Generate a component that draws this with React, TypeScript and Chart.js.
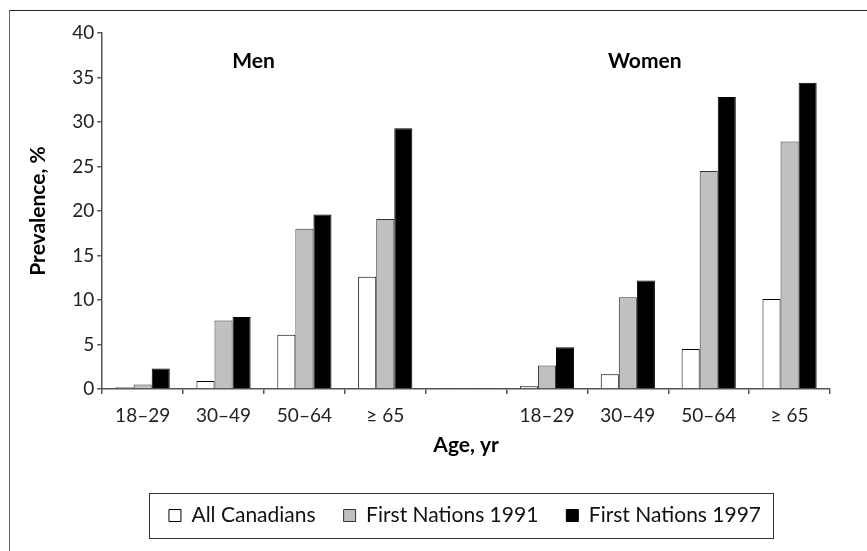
import { useEffect, useRef } from "react";
import { Chart, registerables } from "chart.js";

Chart.register(...registerables);

const categories = ["18–29", "30–49", "50–64", "≥ 65", "", "18–29", "30–49", "50–64", "≥ 65"];
const allCanadians = [0.2, 0.9, 6.1, 12.6, 0, 0.3, 1.65, 4.5, 10.1];
const firstNations1991 = [0.5, 7.7, 18.0, 19.1, 0, 2.65, 10.3, 24.5, 27.8];
const firstNations1997 = [2.3, 8.1, 19.6, 29.3, 0, 4.7, 12.2, 32.8, 34.4];
const seriesNames = ["All Canadians", "First Nations 1991", "First Nations 1997"];
const groupLabels = ["Men", "Women"];
const yMin = 0;
const yMax = 40;
const yStep = 5;

const FONT = 'Lato, "Open Sans", "DejaVu Sans", sans-serif';

const groupLabelPlugin = {
  id: "groupLabels",
  afterDatasetsDraw(chart: any) {
    const { ctx, scales } = chart;
    const x = scales.x;
    const y = scales.y;
    const xs = [1.37, 6.21];
    ctx.save();
    ctx.font = `bold 21px ${FONT}`;
    ctx.fillStyle = "#000";
    ctx.textAlign = "center";
    ctx.textBaseline = "middle";
    groupLabels.forEach((t, i) => {
      ctx.fillText(t, x.getPixelForValue(xs[i]), y.getPixelForValue(36.8));
    });
    ctx.restore();
  },
};

const legendBoxPlugin = {
  id: "legendBox",
  afterUpdate(chart: any) {
    const lg = chart.legend;
    if (!lg) return;
    const shift = 39;
    lg.left += shift;
    lg.right += shift;
    (lg.legendHitBoxes || []).forEach((h: any) => {
      h.left += shift;
    });
  },
  afterDraw(chart: any) {
    const lg = chart.legend;
    if (!lg || !lg.legendHitBoxes || !lg.legendHitBoxes.length) return;
    const boxes = lg.legendHitBoxes;
    let l = Infinity, r = -Infinity, t = Infinity, b = -Infinity;
    boxes.forEach((h: any) => {
      l = Math.min(l, h.left);
      r = Math.max(r, h.left + h.width);
      t = Math.min(t, h.top);
      b = Math.max(b, h.top + h.height);
    });
    const cy = (t + b) / 2;
    const ctx = chart.ctx;
    ctx.save();
    ctx.strokeStyle = "#333";
    ctx.lineWidth = 1;
    ctx.strokeRect(Math.round(l - 20) + 0.5, Math.round(cy - 22.5) + 0.5, Math.round(r - l + 32), 45);
    ctx.restore();
  },
};

export default function App() {
  const canvasRef = useRef<HTMLCanvasElement | null>(null);

  useEffect(() => {
    if (!canvasRef.current) return;
    Chart.defaults.font.family = FONT;
    const chart = new Chart(canvasRef.current, {
      type: "bar",
      data: {
        labels: categories,
        datasets: [
          {
            label: seriesNames[0],
            data: allCanadians,
            backgroundColor: "#ffffff",
            borderColor: "#000000",
            borderWidth: 1,
          },
          {
            label: seriesNames[1],
            data: firstNations1991,
            backgroundColor: "#c0c0c0",
            borderColor: "#333333",
            borderWidth: 1,
          },
          {
            label: seriesNames[2],
            data: firstNations1997,
            backgroundColor: "#000000",
            borderColor: "#000000",
            borderWidth: 1,
          },
        ],
      },
      options: {
        animation: false,
        responsive: false,
        maintainAspectRatio: false,
        layout: { padding: { left: 22, right: 37, top: 33, bottom: 15 } },
        datasets: {
          bar: {
            categoryPercentage: 0.67,
            barPercentage: 1.0,
            borderSkipped: "bottom",
            minBarLength: 1,
          },
        },
        plugins: {
          tooltip: { enabled: false },
          legend: {
            display: true,
            position: "bottom",
            maxHeight: 75,
            onClick: () => {},
            labels: {
              boxWidth: 12,
              boxHeight: 12,
              padding: 28,
              color: "#111",
              font: { size: 21, family: FONT },
            },
          },
        },
        scales: {
          x: {
            grid: {
              drawOnChartArea: false,
              drawTicks: true,
              tickLength: 5,
              color: "#555",
              lineWidth: 1.5,
              offset: true,
            },
            border: { color: "#555", width: 1.5 },
            ticks: {
              color: "#222",
              padding: 10,
              font: { size: 19, family: FONT },
              maxRotation: 0,
              autoSkip: false,
            },
            title: {
              display: true,
              text: "Age, yr",
              color: "#000",
              font: { size: 21, weight: "bold", family: FONT },
              padding: { top: -4, bottom: 19 },
            },
          },
          y: {
            min: yMin,
            max: yMax,
            grid: {
              drawOnChartArea: false,
              drawTicks: true,
              tickLength: 5,
              color: "#555",
              lineWidth: 1.5,
            },
            border: { color: "#555", width: 1.5 },
            ticks: {
              stepSize: yStep,
              color: "#222",
              padding: 3,
              font: { size: 19, family: FONT },
            },
            title: {
              display: true,
              text: "Prevalence, %",
              color: "#000",
              font: { size: 21, weight: "bold", family: FONT },
              padding: { top: 4, bottom: 18 },
            },
          },
        },
      },
      plugins: [groupLabelPlugin, legendBoxPlugin],
    });
    return () => chart.destroy();
  }, []);

  return (
    <div
      style={{
        position: "fixed",
        left: 0,
        top: 0,
        width: 867,
        height: 551,
        background: "#fff",
        overflow: "hidden",
      }}
    >
      <div
        style={{
          position: "absolute",
          left: 9,
          top: 10,
          width: 870,
          height: 560,
          borderTop: "1.5px solid #222",
          borderLeft: "1.5px solid #666",
        }}
      />
      <canvas
        ref={canvasRef}
        width={867}
        height={551}
        style={{ position: "absolute", left: 0, top: 0, width: 867, height: 551 }}
      />
    </div>
  );
}
